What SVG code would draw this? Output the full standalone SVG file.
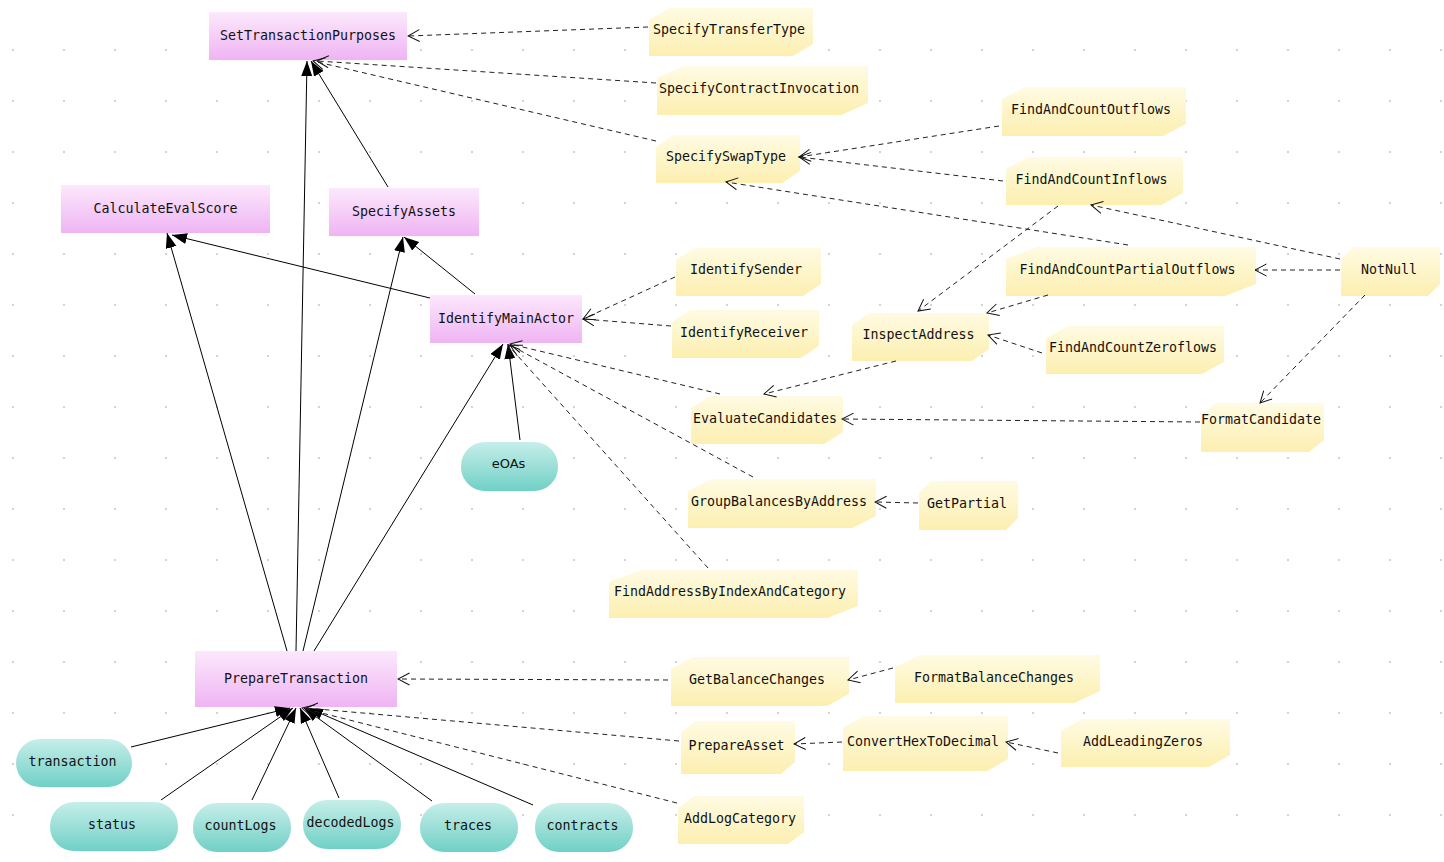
<svg xmlns="http://www.w3.org/2000/svg" width="1444" height="862" viewBox="0 0 1444 862">
<style>
text{font-family:"DejaVu Sans Mono","Liberation Mono",monospace;font-size:13.3px;fill:#111;text-anchor:middle}
.sans{font-family:"DejaVu Sans","Liberation Sans",sans-serif;font-size:13px}
.fn{fill:url(#pink)}
.note{fill:url(#yel)}
.pill{fill:url(#teal)}
.solid{stroke:#000;stroke-width:1;fill:none;marker-end:url(#filled)}
.dash{stroke:#222;stroke-width:1;fill:none;stroke-dasharray:5,4;marker-end:url(#open)}
</style>
<defs>
<pattern id="dots" patternUnits="userSpaceOnUse" x="0" y="0" width="51" height="51">
<circle cx="13" cy="50" r="1" fill="#c4c4c4"/>
</pattern>
<linearGradient id="pink" x1="0" y1="0" x2="0" y2="1"><stop offset="0" stop-color="#fce8fc"/><stop offset="1" stop-color="#efb4f3"/></linearGradient>
<linearGradient id="yel" x1="0" y1="0" x2="0" y2="1"><stop offset="0" stop-color="#fffbe3"/><stop offset="1" stop-color="#fcefb0"/></linearGradient>
<linearGradient id="teal" x1="0" y1="0" x2="0" y2="1"><stop offset="0" stop-color="#c6eee9"/><stop offset="1" stop-color="#70d0c6"/></linearGradient>
<marker id="filled" markerUnits="userSpaceOnUse" markerWidth="16" markerHeight="12" refX="15" refY="5.5" orient="auto"><path d="M0,0 L15,5.5 L0,11 z" fill="#000"/></marker>
<marker id="open" markerUnits="userSpaceOnUse" markerWidth="13" markerHeight="14" refX="12" refY="6.5" orient="auto"><path d="M0.5,0.5 L12,6.5 L0.5,12.5" fill="none" stroke="#111" stroke-width="1"/></marker>
</defs>
<rect width="1444" height="862" fill="#fff"/>
<rect width="1444" height="862" fill="url(#dots)"/>

<g id="SetTransactionPurposes"><rect class="fn" x="209" y="12" width="198" height="48"/><text x="308" y="39.5">SetTransactionPurposes</text></g>
<g id="CalculateEvalScore"><rect class="fn" x="61" y="185" width="209" height="48"/><text x="165.5" y="213">CalculateEvalScore</text></g>
<g id="SpecifyAssets"><rect class="fn" x="329" y="188" width="150" height="48"/><text x="404" y="216">SpecifyAssets</text></g>
<g id="IdentifyMainActor"><rect class="fn" x="430" y="295" width="152" height="48"/><text x="506" y="323">IdentifyMainActor</text></g>
<g id="PrepareTransaction"><rect class="fn" x="195" y="651" width="202" height="56"/><text x="296" y="682.5">PrepareTransaction</text></g>

<g id="SpecifyTransferType"><polygon class="note" points="649,20 669.5,8 813,8 813,44 792.5,56 649,56"/><text x="729" y="34">SpecifyTransferType</text></g>
<g id="SpecifyContractInvocation"><polygon class="note" points="657,78 683.4,66 868,66 868,103 841.6,115 657,115"/><text x="759" y="93">SpecifyContractInvocation</text></g>
<g id="SpecifySwapType"><polygon class="note" points="656,147 674,135 800,135 800,171 782,183 656,183"/><text x="726" y="161">SpecifySwapType</text></g>
<g id="FindAndCountOutflows"><polygon class="note" points="1002,99 1025,87 1186,87 1186,124 1163,136 1002,136"/><text x="1091" y="113.5">FindAndCountOutflows</text></g>
<g id="FindAndCountInflows"><polygon class="note" points="1006,169 1028,157 1183,157 1183,193 1161,205 1006,205"/><text x="1091.5" y="184">FindAndCountInflows</text></g>
<g id="FindAndCountPartialOutflows"><polygon class="note" points="1006,259 1037,247 1256,247 1256,284 1225,296 1006,296"/><text x="1127.5" y="273.5">FindAndCountPartialOutflows</text></g>
<g id="NotNull"><polygon class="note" points="1341,259 1353,247 1440,247 1440,284 1428,296 1341,296"/><text x="1389" y="273.5">NotNull</text></g>
<g id="FindAndCountZeroflows"><polygon class="note" points="1046,338 1068,326 1224,326 1224,362 1202,374 1046,374"/><text x="1133" y="351.5">FindAndCountZeroflows</text></g>
<g id="IdentifySender"><polygon class="note" points="676,260 694,248 821,248 821,284 803,296 676,296"/><text x="746" y="274">IdentifySender</text></g>
<g id="IdentifyReceiver"><polygon class="note" points="672,322 690,310 819,310 819,346 801,358 672,358"/><text x="744" y="336.5">IdentifyReceiver</text></g>
<g id="InspectAddress"><polygon class="note" points="852,325 869,313 989,313 989,349 972,361 852,361"/><text x="918.5" y="339">InspectAddress</text></g>
<g id="EvaluateCandidates"><polygon class="note" points="691,408 710,396 843,396 843,432 824,444 691,444"/><text x="765" y="423">EvaluateCandidates</text></g>
<g id="GroupBalancesByAddress"><polygon class="note" points="688,491 711.5,479 876,479 876,516 852.5,528 688,528"/><text x="779" y="506">GroupBalancesByAddress</text></g>
<g id="GetPartial"><polygon class="note" points="919,493 931,481 1018,481 1018,518 1006,530 919,530"/><text x="967" y="508">GetPartial</text></g>
<g id="FormatCandidate"><polygon class="note" points="1201,415 1216,403 1324,403 1324,440 1309,452 1201,452"/><text x="1261" y="424">FormatCandidate</text></g>
<g id="FindAddressByIndexAndCategory"><polygon class="note" points="609,582 640,570 858,570 858,606 827,618 609,618"/><text x="730" y="596">FindAddressByIndexAndCategory</text></g>
<g id="GetBalanceChanges"><polygon class="note" points="671,669 693,657 849,657 849,694 827,706 671,706"/><text x="757" y="684">GetBalanceChanges</text></g>
<g id="FormatBalanceChanges"><polygon class="note" points="895,667 920.6,655 1100,655 1100,691 1074.4,703 895,703"/><text x="994" y="682">FormatBalanceChanges</text></g>
<g id="PrepareAsset"><polygon class="note" points="681,733 695,721 795,721 795,762 781,774 681,774"/><text x="736.5" y="750">PrepareAsset</text></g>
<g id="ConvertHexToDecimal"><polygon class="note" points="843,728 863.6,716 1008,716 1008,759 987.4,771 843,771"/><text x="923" y="745.5">ConvertHexToDecimal</text></g>
<g id="AddLeadingZeros"><polygon class="note" points="1061,731 1082,719 1230,719 1230,755 1209,767 1061,767"/><text x="1143" y="746">AddLeadingZeros</text></g>
<g id="AddLogCategory"><polygon class="note" points="678,808 694,796 804,796 804,832 788,844 678,844"/><text x="740" y="823">AddLogCategory</text></g>

<g id="eOAs"><rect class="pill" x="461" y="442" width="97" height="49" rx="24" ry="24"/><text class="sans" x="508.5" y="468">eOAs</text></g>
<g id="transaction"><rect class="pill" x="16" y="739" width="116" height="48" rx="24" ry="24"/><text x="72.5" y="766">transaction</text></g>
<g id="status"><rect class="pill" x="50" y="802" width="128" height="49" rx="24" ry="24"/><text x="112" y="829">status</text></g>
<g id="countLogs"><rect class="pill" x="193" y="803" width="98" height="49" rx="24" ry="24"/><text x="240.5" y="830">countLogs</text></g>
<g id="decodedLogs"><rect class="pill" x="303" y="800" width="98" height="49" rx="24" ry="24"/><text x="350.5" y="827">decodedLogs</text></g>
<g id="traces"><rect class="pill" x="420" y="803" width="98" height="49" rx="24" ry="24"/><text x="468" y="830">traces</text></g>
<g id="contracts"><rect class="pill" x="535" y="803" width="98" height="49" rx="24" ry="24"/><text x="582.5" y="830">contracts</text></g>

<g id="connectors">
<line class="solid" x1="388" y1="187" x2="311" y2="61"/>
<line class="solid" x1="296" y1="651" x2="307" y2="61"/>
<line class="solid" x1="287" y1="651" x2="167" y2="233"/>
<line class="solid" x1="430" y1="298" x2="172" y2="235"/>
<line class="solid" x1="475" y1="294" x2="404" y2="237"/>
<line class="solid" x1="303" y1="651" x2="403" y2="237"/>
<line class="solid" x1="314" y1="651" x2="503" y2="344"/>
<line class="solid" x1="520" y1="440" x2="508" y2="344"/>
<line class="solid" x1="131" y1="747" x2="290" y2="708"/>
<line class="solid" x1="161" y1="800" x2="293" y2="708"/>
<line class="solid" x1="252" y1="800" x2="296" y2="708"/>
<line class="solid" x1="339" y1="798" x2="300" y2="708"/>
<line class="solid" x1="432" y1="801" x2="304" y2="708"/>
<line class="solid" x1="533" y1="805" x2="308" y2="708"/>

<line class="dash" x1="648" y1="27" x2="408" y2="36"/>
<line class="dash" x1="656" y1="83" x2="317" y2="61"/>
<line class="dash" x1="656" y1="141" x2="313" y2="61"/>
<line class="dash" x1="999" y1="126" x2="799" y2="157"/>
<line class="dash" x1="1003" y1="181" x2="799" y2="157"/>
<line class="dash" x1="1128" y1="245" x2="726" y2="182"/>
<line class="dash" x1="1340" y1="259" x2="1091" y2="205"/>
<line class="dash" x1="1340" y1="270" x2="1255" y2="270"/>
<line class="dash" x1="1365" y1="295" x2="1260" y2="403"/>
<line class="dash" x1="1058" y1="206" x2="918" y2="311"/>
<line class="dash" x1="1048" y1="295" x2="987" y2="313"/>
<line class="dash" x1="1042" y1="353" x2="988" y2="335"/>
<line class="dash" x1="896" y1="361" x2="764" y2="394"/>
<line class="dash" x1="1200" y1="422" x2="842" y2="419"/>
<line class="dash" x1="675" y1="277" x2="583" y2="319"/>
<line class="dash" x1="671" y1="326" x2="583" y2="319"/>
<line class="dash" x1="720" y1="394" x2="510" y2="344"/>
<line class="dash" x1="753" y1="477" x2="510" y2="345"/>
<line class="dash" x1="708" y1="568" x2="508" y2="345"/>
<line class="dash" x1="918" y1="503" x2="875" y2="502"/>
<line class="dash" x1="668" y1="680" x2="398" y2="679"/>
<line class="dash" x1="893" y1="668" x2="848" y2="680"/>
<line class="dash" x1="679" y1="741" x2="306" y2="708"/>
<line class="dash" x1="842" y1="742" x2="794" y2="744"/>
<line class="dash" x1="1058" y1="753" x2="1006" y2="742"/>
<line class="dash" x1="677" y1="803" x2="302" y2="708"/>
</g>
</svg>
